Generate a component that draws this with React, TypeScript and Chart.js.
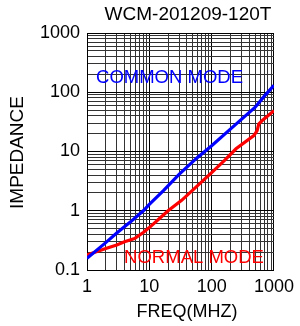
import { useEffect, useRef } from 'react';
import { Chart, registerables } from 'chart.js';

Chart.register(...registerables);

const chartTitle = 'WCM-201209-120T';
const xTitle = 'FREQ(MHZ)';
const yTitle = 'IMPEDANCE';
const commonLabel = 'COMMON MODE';
const normalLabel = 'NORMAL MODE';

const xTickLabels = ['1', '10', '100', '1000'];
const yTickLabels = ['0.1', '1', '10', '100', '1000'];

const commonFreq = [1, 2, 3, 5, 8, 10, 17, 30, 58, 100, 246, 500, 700, 1000];
const commonZ = [0.157, 0.29, 0.42, 0.65, 1.0, 1.28, 2.2, 4.1, 7.8, 12.5, 29, 56, 86, 131];

const normalFreq = [1, 2, 3, 4, 5.8, 8, 10, 15, 20, 33, 100, 161, 246, 475, 537, 569, 642, 1000];
const normalZ = [0.179, 0.23, 0.265, 0.3, 0.34, 0.43, 0.52, 0.76, 1.0, 1.5, 4.4, 7.06, 11.1, 18.6, 22.5, 29, 33, 49];

const FONT = "'Liberation Sans', Arial, sans-serif";

function logTicks(labels: string[]) {
  const majors = labels.map(Number);
  const out: { value: number }[] = [];
  for (let i = 0; i < majors.length - 1; i++) {
    for (let k = 1; k < 10; k++) out.push({ value: majors[i] * k });
  }
  out.push({ value: majors[majors.length - 1] });
  return out;
}

function labelFor(labels: string[], v: number) {
  const found = labels.find((l) => Math.abs(Number(l) - v) < 1e-9 * Math.max(1, v));
  return found ?? '';
}

function isMajor(labels: string[], v: number | undefined) {
  if (v === undefined) return false;
  return labelFor(labels, v) !== '';
}

const textPlugin = {
  id: 'texts',
  afterDraw(chart: any) {
    const ctx = chart.ctx as CanvasRenderingContext2D;
    ctx.save();
    ctx.textBaseline = 'alphabetic';
    ctx.textAlign = 'center';
    ctx.fillStyle = '#000';
    ctx.font = `19px ${FONT}`;
    ctx.fillText(chartTitle, 188, 20);
    ctx.font = `18px ${FONT}`;
    ctx.fillText(xTitle, 187, 317);
    ctx.save();
    ctx.translate(23, 152.5);
    ctx.rotate(-Math.PI / 2);
    ctx.font = `19px ${FONT}`;
    ctx.fillText(yTitle, 0, 0);
    ctx.restore();
    ctx.font = `18.5px ${FONT}`;
    ctx.fillStyle = '#0000ff';
    ctx.fillText(commonLabel, 169.5, 83);
    ctx.fillStyle = '#ff0000';
    ctx.fillText(normalLabel, 194, 263);
    ctx.restore();
  },
};

export default function App() {
  const ref = useRef<HTMLCanvasElement | null>(null);
  useEffect(() => {
    if (!ref.current) return;
    const chart = new Chart(ref.current, {
      type: 'line',
      data: {
        datasets: [
          {
            label: commonLabel,
            data: commonFreq.map((f, i) => ({ x: f, y: commonZ[i] })),
            borderColor: '#0000ff',
            borderWidth: 3.2,
            pointRadius: 0,
            tension: 0,
            fill: false,
          },
          {
            label: normalLabel,
            data: normalFreq.map((f, i) => ({ x: f, y: normalZ[i] })),
            borderColor: '#ff0000',
            borderWidth: 3.2,
            pointRadius: 0,
            tension: 0,
            fill: false,
          },
        ],
      },
      options: {
        animation: false,
        responsive: false,
        maintainAspectRatio: false,
        layout: { padding: { top: 33, right: 21, left: 0, bottom: 0 } },
        plugins: { legend: { display: false }, tooltip: { enabled: false }, title: { display: false } },
        scales: {
          x: {
            type: 'logarithmic',
            min: Number(xTickLabels[0]),
            max: Number(xTickLabels[xTickLabels.length - 1]),
            afterBuildTicks: (scale: any) => {
              scale.ticks = logTicks(xTickLabels);
            },
            afterFit: (scale: any) => {
              scale.height = 56;
            },
            ticks: {
              autoSkip: false,
              maxRotation: 0,
              padding: 6,
              color: '#000',
              font: { family: FONT, size: 18 },
              callback: (v: any) => labelFor(xTickLabels, Number(v)),
            },
            grid: {
              drawTicks: false,
              color: (c: any) => (isMajor(xTickLabels, c.tick?.value) ? '#000' : '#333'),
              lineWidth: 1,
            },
            border: { display: true, color: '#000', width: 1 },
          },
          y: {
            type: 'logarithmic',
            min: Number(yTickLabels[0]),
            max: Number(yTickLabels[yTickLabels.length - 1]),
            afterBuildTicks: (scale: any) => {
              scale.ticks = logTicks(yTickLabels);
            },
            afterFit: (scale: any) => {
              scale.width = 87;
            },
            ticks: {
              autoSkip: false,
              padding: 7,
              color: '#000',
              font: { family: FONT, size: 18 },
              callback: (v: any) => labelFor(yTickLabels, Number(v)),
            },
            grid: {
              drawTicks: false,
              color: (c: any) => (isMajor(yTickLabels, c.tick?.value) ? '#000' : '#333'),
              lineWidth: 1,
            },
            border: { display: true, color: '#000', width: 1 },
          },
        },
      },
      plugins: [textPlugin],
    } as any);
    return () => chart.destroy();
  }, []);
  return (
    <div style={{ position: 'absolute', left: 0, top: 0, width: 300, height: 326, background: '#fff' }}>
      <canvas ref={ref} width={300} height={326} style={{ display: 'block', width: 300, height: 326 }} />
    </div>
  );
}
